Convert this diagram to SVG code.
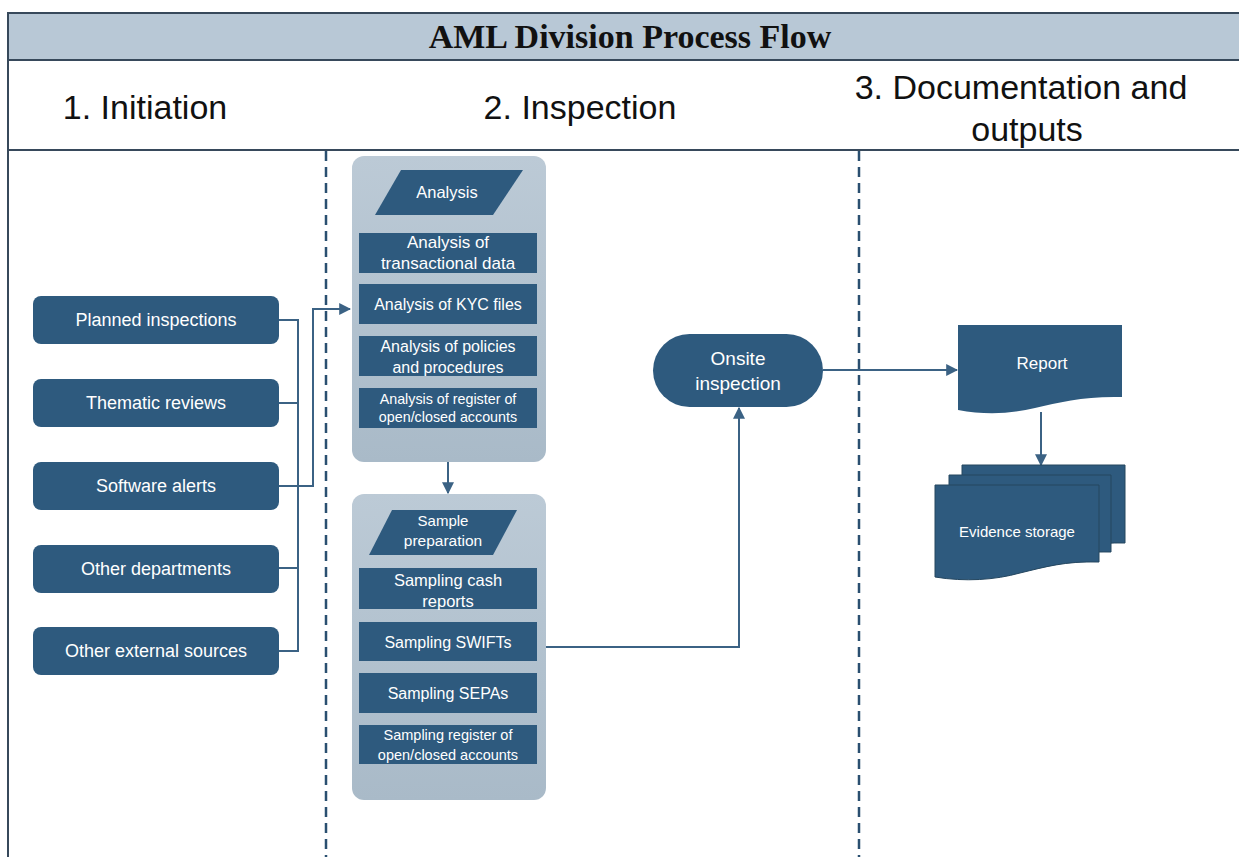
<svg xmlns="http://www.w3.org/2000/svg" width="1239" height="857" viewBox="0 0 1239 857">
<defs>
<style>
.frame{fill:none;stroke:#37495b;stroke-width:2}
.lane{stroke:#2a4f70;stroke-width:2.5;stroke-dasharray:10 6;fill:none}
.node{fill:#2e5a7e}
.cont{fill:url(#cg)}
.t{font-family:"Liberation Sans",Arial,sans-serif;fill:#ffffff;text-anchor:middle}
.hdr{font-family:"Liberation Sans",Arial,sans-serif;fill:#111111;font-size:34px;text-anchor:middle}
.conn{fill:none;stroke:#3b6284;stroke-width:2}
.page{fill:#2e5a7e;stroke:#24465f;stroke-width:1}
</style>
<linearGradient id="cg" x1="0" y1="0" x2="0" y2="1">
<stop offset="0" stop-color="#bccad6"/>
<stop offset="1" stop-color="#a9bac8"/>
</linearGradient>
<marker id="ah" viewBox="0 0 10 10" refX="9" refY="5" markerWidth="6" markerHeight="6" markerUnits="strokeWidth" orient="auto">
<path d="M0,0 L10,5 L0,10 Z" fill="#3b6284"/>
</marker>
</defs>
<rect x="0" y="0" width="1239" height="857" fill="#ffffff"/>
<g id="frame">
<rect x="8" y="13" width="1240" height="47" fill="#b8c8d6"/>
<line class="frame" x1="8" y1="13" x2="1239" y2="13"/>
<line class="frame" x1="8" y1="60" x2="1239" y2="60"/>
<line class="frame" x1="8" y1="150" x2="1239" y2="150"/>
<line class="frame" x1="8" y1="12" x2="8" y2="857"/>
<text x="630" y="48" font-family="'Liberation Serif','Times New Roman',serif" font-weight="bold" font-size="34" text-anchor="middle" fill="#111111">AML Division Process Flow</text>
<text class="hdr" x="145" y="119">1. Initiation</text>
<text class="hdr" x="580" y="119">2. Inspection</text>
<text class="hdr" x="1021" y="99">3. Documentation and</text>
<text class="hdr" x="1027" y="141">outputs</text>
<line class="lane" x1="326" y1="151" x2="326" y2="857"/>
<line class="lane" x1="859" y1="151" x2="859" y2="857"/>
</g>
<g id="connectors">
<polyline class="conn" points="279,320 298,320 298,651 279,651"/>
<line class="conn" x1="279" y1="403" x2="298" y2="403"/>
<line class="conn" x1="279" y1="568" x2="298" y2="568"/>
<polyline class="conn" stroke-width="1.5" points="279,486 313,486 313,309 350,309" marker-end="url(#ah)"/>
<line class="conn" x1="448" y1="462" x2="448" y2="493" marker-end="url(#ah)"/>
<polyline class="conn" points="546,647 739,647 739,408" marker-end="url(#ah)"/>
<line class="conn" x1="823" y1="370" x2="957" y2="370" marker-end="url(#ah)"/>
<line class="conn" x1="1041" y1="412" x2="1041" y2="465" marker-end="url(#ah)"/>
</g>
<g id="planned"><rect class="node" x="33" y="296" width="246" height="48" rx="8"/><text class="t" x="156" y="326" font-size="18">Planned inspections</text></g>
<g id="thematic"><rect class="node" x="33" y="379" width="246" height="48" rx="8"/><text class="t" x="156" y="409" font-size="18">Thematic reviews</text></g>
<g id="software"><rect class="node" x="33" y="462" width="246" height="48" rx="8"/><text class="t" x="156" y="492" font-size="18">Software alerts</text></g>
<g id="otherdept"><rect class="node" x="33" y="545" width="246" height="48" rx="8"/><text class="t" x="156" y="575" font-size="18">Other departments</text></g>
<g id="otherext"><rect class="node" x="33" y="627" width="246" height="48" rx="8"/><text class="t" x="156" y="657" font-size="18">Other external sources</text></g>
<g id="analysis">
<rect class="cont" x="352" y="156" width="194" height="306" rx="12"/>
<polygon class="node" points="401,170 523,170 493,215 375,215"/>
<text class="t" x="447" y="198" font-size="16.5">Analysis</text>
<rect class="node" x="359" y="233" width="178" height="40"/>
<text class="t" x="448" y="248" font-size="17">Analysis of</text>
<text class="t" x="448" y="269" font-size="17">transactional data</text>
<rect class="node" x="359" y="284" width="178" height="40"/>
<text class="t" x="448" y="310" font-size="16">Analysis of KYC files</text>
<rect class="node" x="359" y="336" width="178" height="40"/>
<text class="t" x="448" y="352" font-size="16">Analysis of policies</text>
<text class="t" x="448" y="373" font-size="16">and procedures</text>
<rect class="node" x="359" y="388" width="178" height="40"/>
<text class="t" x="448" y="404" font-size="14.3">Analysis of register of</text>
<text class="t" x="448" y="422" font-size="14.3">open/closed accounts</text>
</g>
<g id="sample">
<rect class="cont" x="352" y="494" width="194" height="306" rx="12"/>
<polygon class="node" points="392,510 517,510 493,555 369,555"/>
<text class="t" x="443" y="526" font-size="15">Sample</text>
<text class="t" x="443" y="546" font-size="15.5">preparation</text>
<rect class="node" x="359" y="568" width="178" height="41"/>
<text class="t" x="448" y="586" font-size="16.5">Sampling cash</text>
<text class="t" x="448" y="607" font-size="16.5">reports</text>
<rect class="node" x="359" y="622" width="178" height="39"/>
<text class="t" x="448" y="648" font-size="16">Sampling SWIFTs</text>
<rect class="node" x="359" y="673" width="178" height="40"/>
<text class="t" x="448" y="699" font-size="16">Sampling SEPAs</text>
<rect class="node" x="359" y="725" width="178" height="39"/>
<text class="t" x="448" y="740" font-size="14.5">Sampling register of</text>
<text class="t" x="448" y="760" font-size="14.5">open/closed accounts</text>
</g>
<g id="onsite">
<rect class="node" x="653" y="334" width="170" height="73" rx="36.5"/>
<text class="t" x="738" y="365" font-size="19">Onsite</text>
<text class="t" x="738" y="390" font-size="19">inspection</text>
</g>
<g id="report">
<path class="node" d="M958,325 H1122 V397 C1085,396 1060,402 1035,408 C1010,414 985,415 958,410 Z"/>
<text class="t" x="1042" y="369" font-size="17">Report</text>
</g>
<g id="evidence">
<path class="page" d="M962,465 H1125 V543 C1095,542 1075,548 1055,554 C1030,561 995,562 962,557 Z"/>
<path class="page" d="M949,475 H1111 V552 C1080,551 1060,557 1040,563 C1015,570 980,571 949,566 Z"/>
<path class="page" d="M935,485 H1099 V562 C1065,561 1045,567 1020,573 C995,580 965,582 935,577 Z"/>
<text class="t" x="1017" y="537" font-size="15">Evidence storage</text>
</g>
</svg>
